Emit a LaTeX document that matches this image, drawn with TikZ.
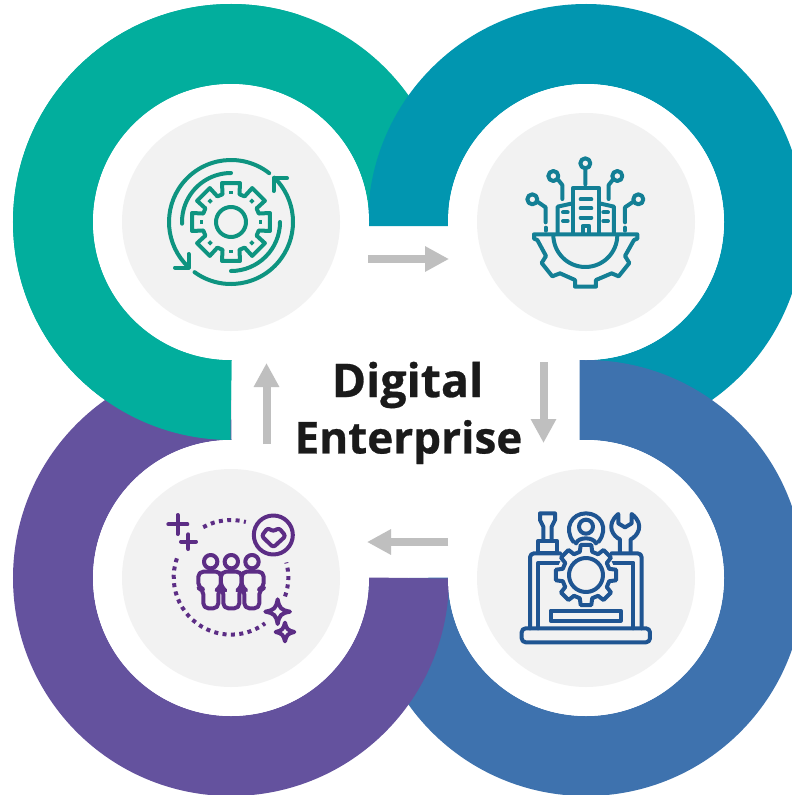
\documentclass[tikz,border=0pt]{standalone}
\usepackage{fontspec}
\setmainfont{Open Sans}
\newfontfamily\titlefont[BoldFeatures={FakeBold=0.6}]{Open Sans}
\usetikzlibrary{arrows.meta}
\definecolor{cTeal}{RGB}{2,174,157}
\definecolor{cPetrol}{RGB}{1,150,176}
\definecolor{cBlue}{RGB}{62,114,174}
\definecolor{cPurple}{RGB}{100,82,158}
\definecolor{cDisc}{RGB}{242,242,242}
\definecolor{cArrow}{RGB}{191,191,191}
\definecolor{iTeal}{RGB}{14,148,128}
\definecolor{iPetrol}{RGB}{19,127,149}
\definecolor{iBlue}{RGB}{31,85,146}
\definecolor{iPurple}{RGB}{92,45,133}
\definecolor{cText}{RGB}{26,26,26}
\tikzset{
  ringarc/.style={line width=80pt},
  whitedisc/.style={circle,fill=white,minimum size=276pt,inner sep=0pt,outer sep=0pt},
  greydisc/.style={circle,fill=cDisc,minimum size=218pt,inner sep=0pt,outer sep=0pt},
  flowarrow/.style={line width=8pt,color=cArrow,-{Triangle[length=24pt,width=24pt]}},
  icon/.style={line width=4pt,line join=round,line cap=round},
  title/.style={text=cText,inner sep=0pt,anchor=center,draw=none}
}
\newcommand\geardraw[8]{% cx cy n Ro Ri w1 w2 colour
  \draw[icon,#8] ([shift={(#1,#2)}]90-#6:#5pt)
    \foreach \k in {1,...,#3}{
      \pgfextra{\pgfmathsetmacro\ang{90+(\k-1)*360/#3}}
      -- ([shift={(#1,#2)}]\ang-#6:#5pt)
      -- ([shift={(#1,#2)}]\ang-#7:#4pt)
      -- ([shift={(#1,#2)}]\ang+#7:#4pt)
      -- ([shift={(#1,#2)}]\ang+#6:#5pt)
    } -- cycle;
}
\begin{document}
\begin{tikzpicture}[x=1pt,y=-1pt]
\useasboundingbox (0,0) rectangle (792,795);
\clip (0,0) rectangle (792,795);
\fill[white] (0,0) rectangle (792,795);
% rings
\coordinate (cTL) at (231,222);
\coordinate (cTR) at (586,222);
\coordinate (cBR) at (586,578);
\coordinate (cBL) at (231,578);
\draw[ringarc,cTeal] (cTL)++(270:178pt) arc[start angle=270,end angle=0,radius=178pt];
\draw[ringarc,cPetrol] (408,226) -- (408,222) arc[start angle=180,end angle=-90,radius=178pt];
\draw[ringarc,cBlue] (579.5,400) -- (586,400) arc[start angle=90,end angle=-180,radius=178pt];
\draw[ringarc,cPurple] (cBL)++(0:178pt) arc[start angle=0,end angle=-270,radius=178pt];
\begin{scope}
\clip (0,0) rectangle (300,500);
\draw[ringarc,cTeal] (cTL)++(270:178pt) arc[start angle=270,end angle=0,radius=178pt];
\end{scope}
% discs
\node[whitedisc] (wTL) at (cTL) {};
\node[whitedisc] (wTR) at (cTR) {};
\node[whitedisc] (wBR) at (cBR) {};
\node[whitedisc] (wBL) at (cBL) {};
\node[greydisc] (gTL) at (cTL) {};
\node[greydisc] (gTR) at (cTR) {};
\node[greydisc] (gBR) at (cBR) {};
\node[greydisc] (gBL) at (cBL) {};
% arrows
\coordinate (a1s) at (368,259); \coordinate (a1e) at (449,259);
\coordinate (a2s) at (543.5,362); \coordinate (a2e) at (543.5,443);
\coordinate (a3s) at (448,542); \coordinate (a3e) at (367,542);
\coordinate (a4s) at (266.5,444); \coordinate (a4e) at (266.5,363);
\draw[flowarrow] (a1s) -- (a1e);
\draw[flowarrow] (a2s) -- (a2e);
\draw[flowarrow] (a3s) -- (a3e);
\draw[flowarrow] (a4s) -- (a4e);
% title
\node[title,font=\titlefont\fontsize{46.5}{46.5}\selectfont\bfseries] (t1) at (407.5,385) {Digital};
\node[title,font=\titlefont\fontsize{44}{44}\selectfont\bfseries] (t2) at (408.5,442) {Enterprise};
% ---------- icon 1
\begin{scope}[icon,iTeal]
\draw (cTL)++(52:62pt) arc[start angle=52,end angle=226.5,radius=62pt];
\draw (cTL)++(234:62pt) arc[start angle=234,end angle=405.7,radius=62pt];
\draw (cTL)++(90:49pt) arc[start angle=90,end angle=182,radius=49pt];
\draw (cTL)++(0:49pt) arc[start angle=0,end angle=-90,radius=49pt];
\draw (175,267.5) -- (188.5,267.5) -- (188.5,254);
\draw (287,178.3) -- (273.5,178.3) -- (273.5,191);
\draw (cTL) circle[radius=15pt];
\end{scope}
\geardraw{231}{222}{8}{40}{29}{17}{13}{iTeal}
\foreach \a in {0,45,...,315}
  \fill[iTeal,rotate around={\a:(231,222)}] (260.5,222) ++(-1.9pt,-1.9pt) rectangle ++(3.8pt,3.8pt);
% ---------- icon 2
\begin{scope}[shift={(510,145)},x=0.3333pt,y=-0.3333pt,icon,iPetrol]
\draw (226,55) circle[radius=5pt] (226,72) -- (226,118);
\draw (130,93) circle[radius=5pt] (145,105) -- (157,120) -- (157,162);
\draw (322,93) circle[radius=5pt] (308,105) -- (296,120) -- (296,162);
\draw (67,163) circle[radius=5pt] (85,172) -- (107,187) -- (107,232);
\draw (385,163) circle[radius=5pt] (367,172) -- (345,187) -- (345,232);
\draw (107,248) -- (107,257) (345,248) -- (345,257);
\draw (188,265) -- (188,130) -- (268,130) -- (268,265);
\draw (188,175) -- (143,185) -- (143,265);
\draw (268,175) -- (312,185) -- (312,265);
\foreach \y in {163,190,218} \draw (212,\y) -- (244,\y);
\foreach \y in {202,228} \draw (159,\y) -- (173,\y) (280,\y) -- (294,\y);
\draw (218,265) -- (218,243) -- (238,243) -- (238,265);
\draw (72,268) -- (382,268) -- (382,281) -- (372,285) -- (345,333) -- (358,354) -- (326,394) -- (305,385) -- (258,405) -- (258,425) -- (195,425) -- (195,405) -- (150,385) -- (127,394) -- (95,354) -- (108,333) -- (82,285) -- (72,281) -- cycle;
\draw (130,270) arc[start angle=180,end angle=360,radius=32pt];
\end{scope}
% ---------- icon 3
\begin{scope}[shift={(510,500)},x=0.3333pt,y=-0.3333pt,icon,iBlue]
\draw (100,122) -- (100,80) -- (90,60) -- (90,40) -- (135,40) -- (135,60) -- (125,80) -- (125,122);
\draw (85,122) rectangle (140,158);
\draw (190,125) .. controls (160,85) and (185,40) .. (228,40) .. controls (272,40) and (297,85) .. (266,125);
\draw (228,80) circle[radius=7pt];
\draw (198,130) .. controls (205,110) and (250,110) .. (258,130);
\draw (330,158) -- (330,118) .. controls (310,110) and (285,75) .. (325,42) -- (325,70) -- (345,82) -- (365,70) -- (365,42) .. controls (408,75) and (380,110) .. (362,118) -- (362,158);
\draw[rounded corners=4pt] (60,385) -- (60,160) -- (150,160);
\draw (85,385) -- (85,188) -- (148,188);
\draw[rounded corners=4pt] (395,385) -- (395,160) -- (305,160);
\draw (370,385) -- (370,188) -- (308,188);
\draw (122,332) rectangle (332,362);
\draw[rounded corners=4pt] (35,385) rectangle (420,427);
\end{scope}
\fill[cDisc] (586,575) circle[radius=29pt];
\draw[icon,iBlue] (586,575) circle[radius=17pt];
\geardraw{586}{575}{8}{30.5}{24}{15}{10}{iBlue}
% ---------- icon 4
\begin{scope}[shift={(155,500)},x=0.3333pt,y=-0.3333pt,icon,iPurple]
\draw (40,73) -- (97,73) (68,45) -- (68,102);
\draw (78,125) -- (123,125) (100,103) -- (100,147);
\draw (355,105) circle[radius=19.5pt];
\draw[rounded corners=2.5pt] (355,142) -- (320,108) -- (338,84) -- (355,94) -- (372,84) -- (392,108) -- cycle;
\foreach \x in {167,229,291} \draw (\x,185) circle[radius=6.7pt];
\draw[rounded corners=5pt] (145,325) -- (145,268) -- (130,264) -- (130,215) -- (198,215) -- (198,264) -- (190,268) -- (190,325) -- cycle;
\draw[rounded corners=5pt] (205,325) -- (205,268) -- (198,264) -- (198,215) -- (260,215) -- (260,264) -- (253,268) -- (253,325) -- cycle;
\draw[rounded corners=5pt] (268,325) -- (268,268) -- (260,264) -- (260,215) -- (326,215) -- (326,264) -- (313,268) -- (313,325) -- cycle;
\draw (368,298) .. controls (373,325) and (378,330) .. (405,335) .. controls (378,340) and (373,345) .. (368,372) .. controls (363,345) and (358,340) .. (331,335) .. controls (358,330) and (363,325) .. (368,298) -- cycle;
\draw (390,368) .. controls (394,387) and (399,392) .. (418,396) .. controls (399,400) and (394,405) .. (390,424) .. controls (386,405) and (381,400) .. (362,396) .. controls (381,392) and (386,387) .. (390,368) -- cycle;
\end{scope}
\begin{scope}[line width=4pt,iPurple,dash pattern=on 4pt off 4.4pt]
\coordinate (cD) at (231,577.3);
\draw (cD)++(119:57.3pt) arc[start angle=119,end angle=75,radius=57.3pt];
\draw (cD)++(160.7:57.3pt) arc[start angle=160.7,end angle=306.5,radius=57.3pt];
\draw (cD)++(-19.5:57.3pt) arc[start angle=-19.5,end angle=15,radius=57.3pt];
\end{scope}
\end{tikzpicture}
\end{document}
